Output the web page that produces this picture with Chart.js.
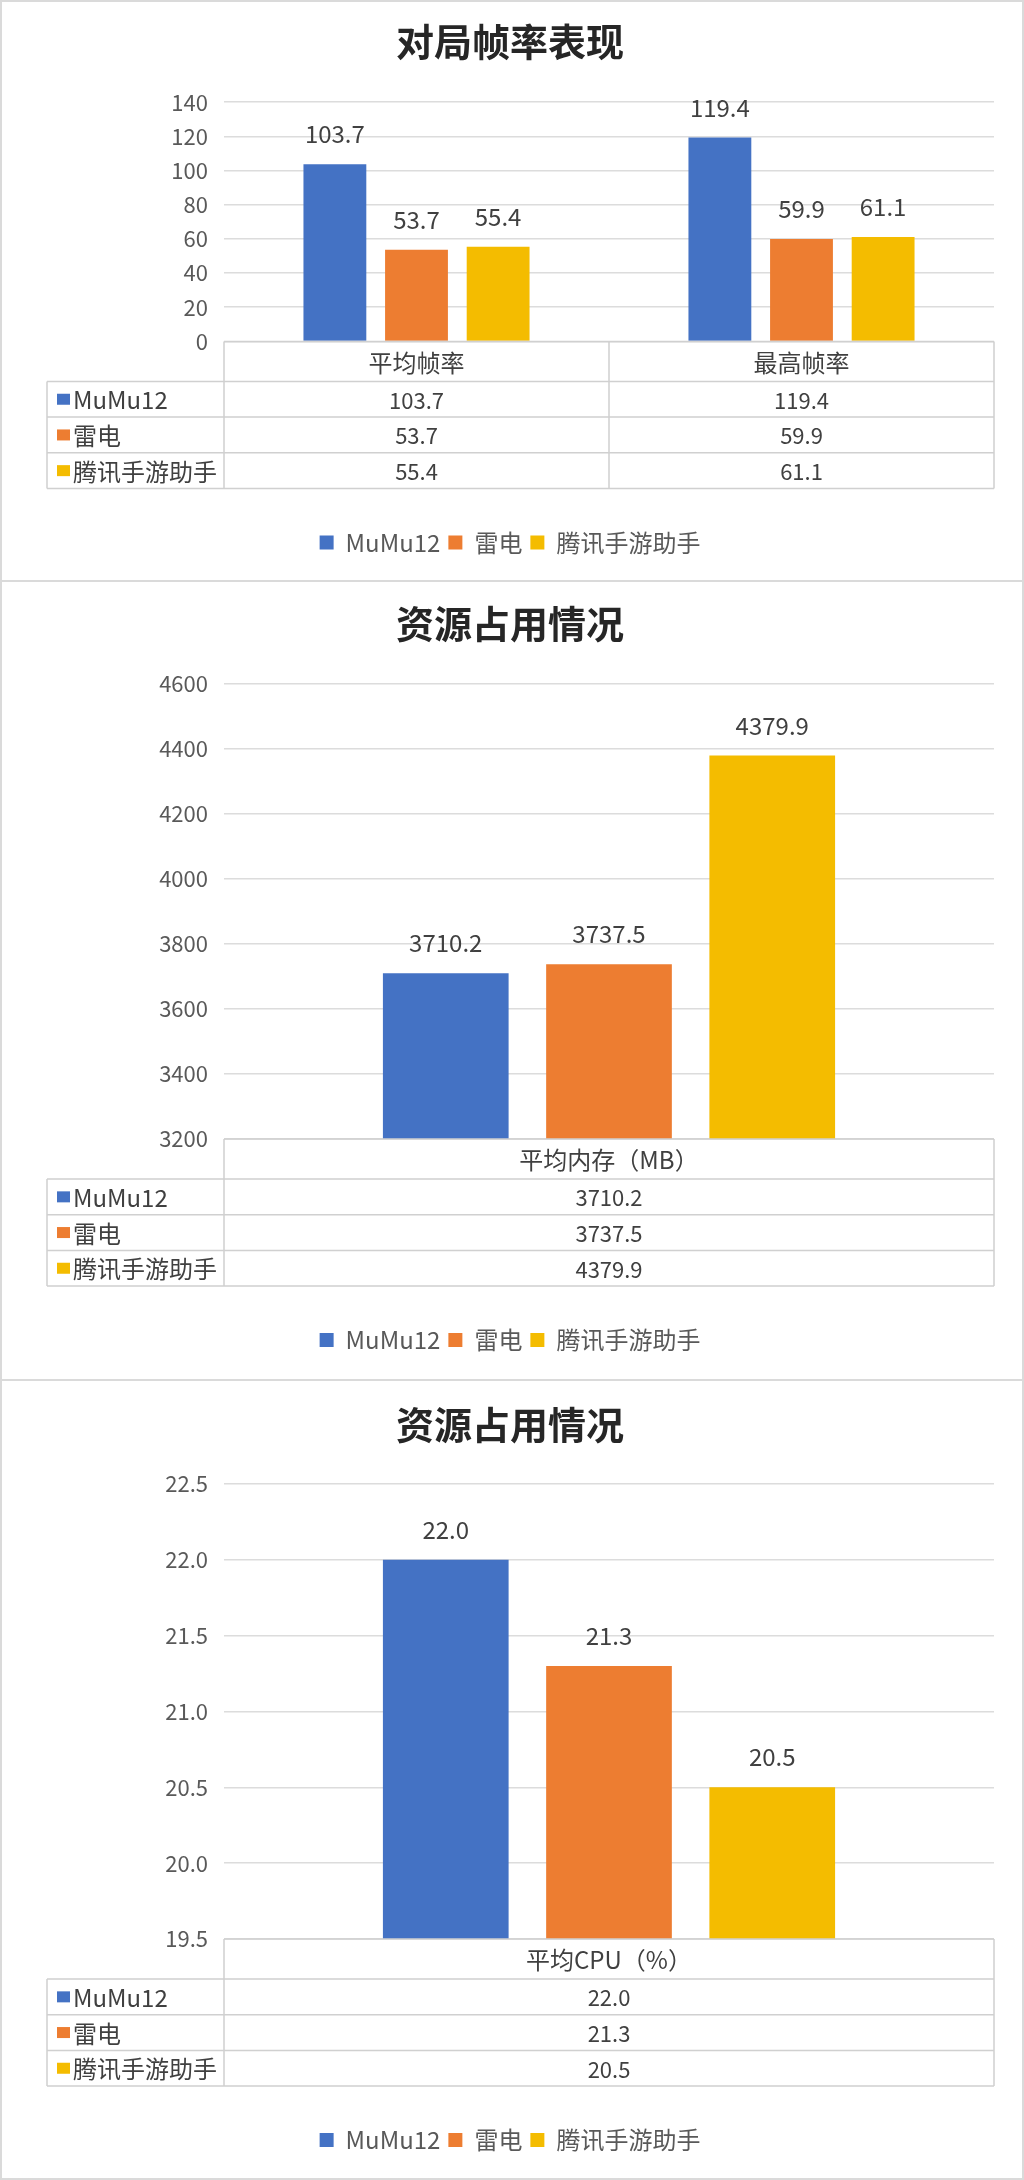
<!DOCTYPE html>
<html>
<head>
<meta charset="utf-8">
<script src="https://cdn.jsdelivr.net/npm/chart.js@4/dist/chart.umd.min.js"></script>
<style>
  body { margin: 0; background: #fff; }
  #page { position: relative; width: 1024px; height: 2180px; background: #fff; overflow: hidden; }
  canvas { position: absolute; left: 0; }
  .frame { position: absolute; left: 0; width: 1024px; box-sizing: border-box; border: 2px solid #dadada; pointer-events: none; }
</style>
</head>
<body>
<div id="page">
  <canvas id="fps" width="1024" height="582" style="top:0"></canvas>
  <canvas id="mem" width="1024" height="800" style="top:580px"></canvas>
  <canvas id="cpu" width="1024" height="800" style="top:1380px"></canvas>
  <div class="frame" style="top:0;height:582px"></div>
  <div class="frame" style="top:580px;height:801px"></div>
  <div class="frame" style="top:1379px;height:801px"></div>
</div>
<script>
// series names and colours
const SERIES = ["MuMu12", "雷电", "腾讯手游助手"];
const COLORS = ["#4472C4", "#ED7D31", "#F4BC00"];

// chart 1: frame rate
const FPS_CATEGORIES = ["平均帧率", "最高帧率"];
const FPS_MUMU = [103.7, 119.4];
const FPS_LEIDIAN = [53.7, 59.9];
const FPS_TENCENT = [55.4, 61.1];
const FPS_AXIS = [0, 140, 20];

// chart 2: memory
const MEM_CATEGORIES = ["平均内存（MB）"];
const MEM_MUMU = [3710.2];
const MEM_LEIDIAN = [3737.5];
const MEM_TENCENT = [4379.9];
const MEM_AXIS = [3200, 4600, 200];

// chart 3: cpu
const CPU_CATEGORIES = ["平均CPU（%）"];
const CPU_MUMU = [22.0];
const CPU_LEIDIAN = [21.3];
const CPU_TENCENT = [20.5];
const CPU_AXIS = [19.5, 22.5, 0.5];

const FONT = '"Noto Sans CJK SC", "Noto Sans", sans-serif';
Chart.defaults.font.family = FONT;

// value labels above bars
const barLabels = {
  id: "barLabels",
  afterDatasetsDraw(chart) {
    const ctx = chart.ctx;
    ctx.save();
    ctx.font = "24px " + FONT;
    ctx.fillStyle = "#404040";
    ctx.textAlign = "center";
    ctx.textBaseline = "middle";
    chart.data.datasets.forEach((ds, i) => {
      chart.getDatasetMeta(i).data.forEach((bar, j) => {
        ctx.fillText(ds.data[j].toFixed(1), bar.x, bar.y - 30);
      });
    });
    ctx.restore();
  }
};

// excel style data table under the plot
const dataTable = {
  id: "dataTable",
  afterDraw(chart, args, opts) {
    const { ctx, chartArea } = chart;
    const { left, right, bottom } = chartArea;
    const n = chart.data.labels.length;
    const catW = (right - left) / n;
    const headH = opts.headerHeight, rowH = opts.rowHeight;
    const tLeft = opts.left;
    const rows = chart.data.datasets.length;
    const end = bottom + headH + rows * rowH;

    ctx.save();
    ctx.strokeStyle = "#d0d0d0";
    ctx.lineWidth = 1.5;
    ctx.beginPath();
    ctx.moveTo(left, bottom); ctx.lineTo(right, bottom);
    for (let r = 0; r <= rows; r++) {
      const y = bottom + headH + r * rowH;
      ctx.moveTo(tLeft, y); ctx.lineTo(right, y);
    }
    ctx.moveTo(tLeft, bottom + headH); ctx.lineTo(tLeft, end);
    for (let c = 0; c <= n; c++) {
      const x = left + c * catW;
      ctx.moveTo(x, bottom); ctx.lineTo(x, end);
    }
    ctx.stroke();

    ctx.fillStyle = "#404040";
    ctx.textBaseline = "middle";
    ctx.textAlign = "center";
    ctx.font = "24px " + FONT;
    chart.data.labels.forEach((lab, c) => {
      ctx.fillText(lab, left + (c + 0.5) * catW, bottom + headH / 2 + 1);
    });

    chart.data.datasets.forEach((ds, r) => {
      const yc = bottom + headH + (r + 0.5) * rowH;
      ctx.fillStyle = ds.backgroundColor;
      ctx.fillRect(tLeft + 10, yc - 5.5, 13, 11);
      ctx.fillStyle = "#404040";
      ctx.textAlign = "left";
      ctx.font = "24px " + FONT;
      ctx.fillText(ds.label, tLeft + 26, yc + 1);
      ctx.textAlign = "center";
      ctx.font = "22px " + FONT;
      ds.data.forEach((v, c) => {
        ctx.fillText(v.toFixed(1), left + (c + 0.5) * catW, yc + 1);
      });
    });
    ctx.restore();
  }
};

function makeChart(id, title, labels, values, axis, opt) {
  return new Chart(document.getElementById(id), {
    type: "bar",
    data: {
      labels: labels,
      datasets: SERIES.map((name, i) => ({
        label: name,
        data: values[i],
        backgroundColor: COLORS[i],
        borderWidth: 0,
        barPercentage: 0.77,
        categoryPercentage: 0.636,
        clip: 0
      }))
    },
    options: {
      responsive: false,
      animation: false,
      layout: { padding: { top: 0, right: 30, bottom: opt.padBottom, left: 26 } },
      scales: {
        x: {
          grid: { display: false },
          border: { display: false },
          ticks: { display: false },
          afterFit(s) { s.height = 181; }
        },
        y: {
          min: axis[0],
          max: axis[1],
          ticks: {
            stepSize: axis[2],
            padding: 16,
            color: "#595959",
            font: { size: 22 },
            callback: v => opt.decimals ? v.toFixed(1) : v
          },
          grid: { color: "#dcdcdc", lineWidth: 1.5, drawTicks: false },
          border: { display: false },
          afterFit(s) { s.width = 198; }
        }
      },
      plugins: {
        title: {
          display: true,
          text: title,
          color: "#262626",
          font: { size: 38, weight: "bold" },
          padding: { top: opt.titleTop, bottom: opt.titleBottom }
        },
        legend: {
          position: "bottom",
          labels: {
            boxWidth: 14,
            boxHeight: 14,
            padding: 8,
            color: "#595959",
            font: { size: 24 }
          }
        },
        tooltip: { enabled: false },
        dataTable: { left: 47, headerHeight: 40, rowHeight: 35.7 }
      }
    },
    plugins: [barLabels, dataTable]
  });
}

makeChart("fps", "对局帧率表现", FPS_CATEGORIES,
  [FPS_MUMU, FPS_LEIDIAN, FPS_TENCENT], FPS_AXIS,
  { titleTop: 19, titleBottom: 37.6, padBottom: 17.6, decimals: false });
makeChart("mem", "资源占用情况", MEM_CATEGORIES,
  [MEM_MUMU, MEM_LEIDIAN, MEM_TENCENT], MEM_AXIS,
  { titleTop: 21, titleBottom: 37.4, padBottom: 18, decimals: false });
makeChart("cpu", "资源占用情况", CPU_CATEGORIES,
  [CPU_MUMU, CPU_LEIDIAN, CPU_TENCENT], CPU_AXIS,
  { titleTop: 22, titleBottom: 36.4, padBottom: 18, decimals: true });
</script>
</body>
</html>
